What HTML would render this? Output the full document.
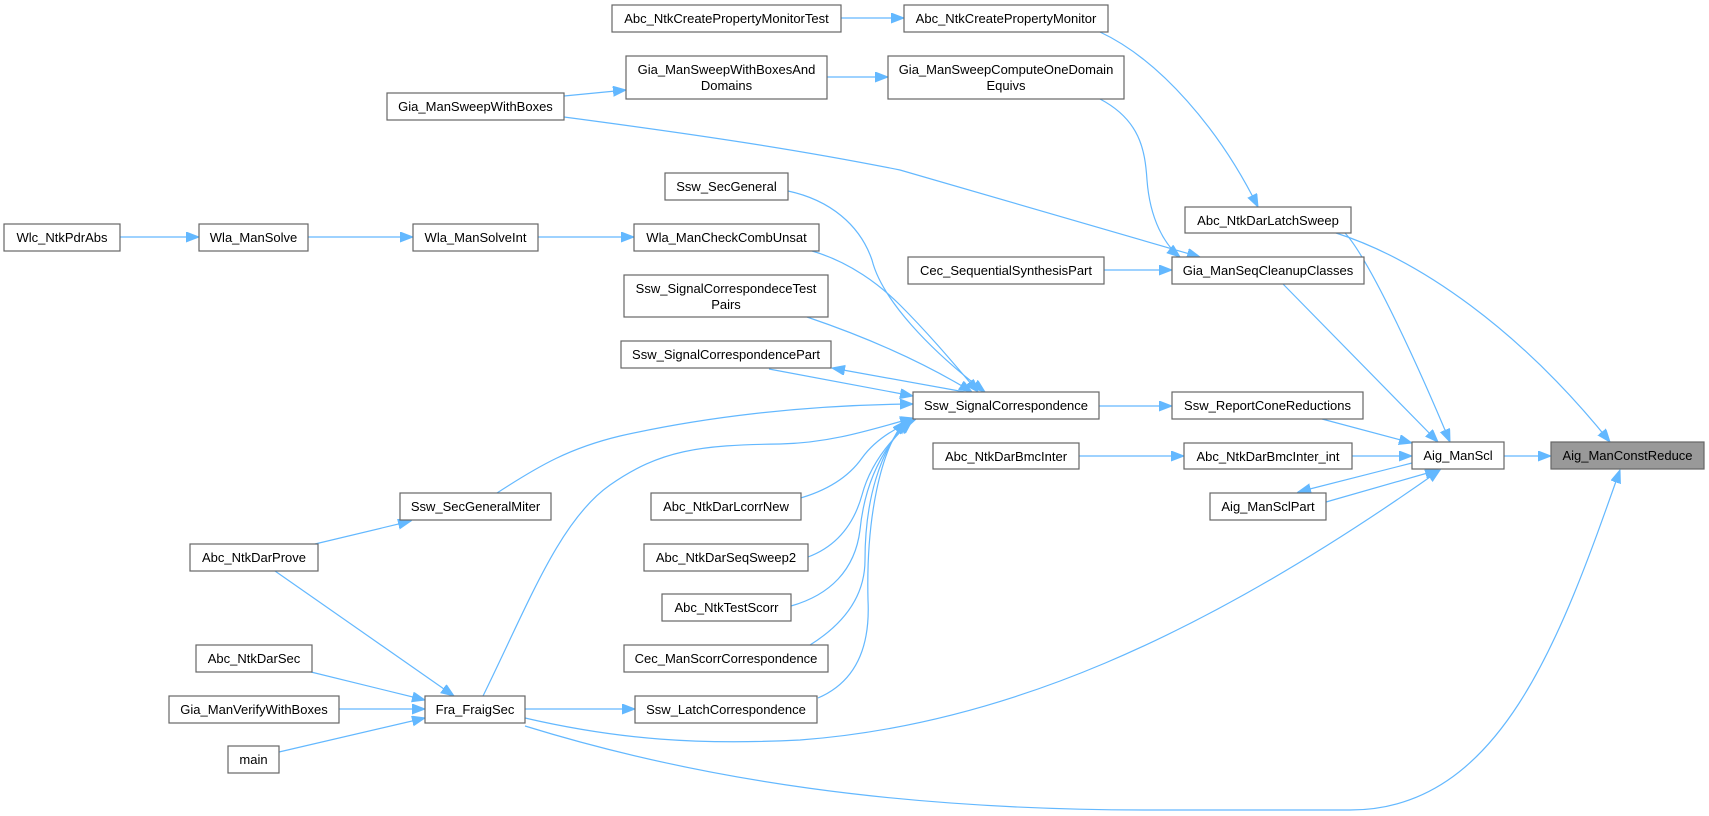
<!DOCTYPE html>
<html><head><meta charset="utf-8"><style>
html,body{margin:0;padding:0;background:#fff;}
svg{display:block;}
text{font-family:"Liberation Sans",Arial,sans-serif;font-size:13px;fill:#000;text-anchor:middle;}
.b{fill:#fff;stroke:#666;stroke-width:1.2;}
.g{fill:#999;stroke:#666;stroke-width:1.2;}
.e{fill:none;stroke:#63b8ff;stroke-width:1.2;marker-end:url(#a);}
</style></head><body>
<svg width="1709" height="816" viewBox="0 0 1709 816" xmlns="http://www.w3.org/2000/svg">
<defs><marker id="a" markerUnits="userSpaceOnUse" markerWidth="14" markerHeight="12" refX="13" refY="5" orient="auto"><path d="M0,0 L13,5 L0,10 Z" fill="#63b8ff" stroke="#63b8ff"/></marker></defs>

<!-- edges -->
<path class="e" d="M841,18 L904,18"/>
<path class="e" d="M1100,32 C1160,60 1220,130 1258,207"/>
<path class="e" d="M827,77 L888,77"/>
<path class="e" d="M564,96 L626,90"/>
<path class="e" d="M1100,99 C1140,120 1145,150 1147,180 C1150,220 1165,245 1180,257"/>
<path class="e" d="M564,117 C700,135 800,150 900,170 L1200,257"/>
<path class="e" d="M1104,270 L1172,270"/>
<path class="e" d="M1283,284 L1438,442"/>
<path class="e" d="M1345,233 C1370,260 1420,370 1450,442"/>
<path class="e" d="M1336,233 C1420,260 1520,330 1610,442"/>
<path class="e" d="M1322,419 L1412,443"/>
<path class="e" d="M1352,456 L1412,456"/>
<path class="e" d="M1079,456 L1184,456"/>
<path class="e" d="M1504,456 L1551,456"/>
<path class="e" d="M1412,463 L1298,492"/>
<path class="e" d="M1326,502 L1438,470"/>
<path class="e" d="M525,718 C620,740 700,745 800,740 C1000,725 1200,640 1440,470"/>
<path class="e" d="M525,726 C700,780 900,810 1150,810 L1350,810 C1500,810 1560,640 1620,470"/>
<path class="e" d="M818,698 C860,680 870,640 868,600 C866,520 880,450 905,421"/>
<path class="e" d="M810,645 C850,620 865,590 865,560 C865,500 880,450 907,421"/>
<path class="e" d="M791,606 C830,595 855,570 860,530 C865,480 885,445 910,421"/>
<path class="e" d="M808,557 C840,545 855,520 862,495 C870,465 890,440 912,421"/>
<path class="e" d="M797,499 C830,490 850,475 862,458 C875,440 895,428 915,420"/>
<path class="e" d="M483,696 C530,600 560,520 610,485 C660,450 700,445 780,444 C830,443 870,430 913,418"/>
<path class="e" d="M497,493 C540,465 570,448 620,436 C700,418 800,405 913,404"/>
<path class="e" d="M769,369 L913,396"/>
<path class="e" d="M965,392 L832,368"/>
<path class="e" d="M807,317 C860,335 920,360 972,392"/>
<path class="e" d="M812,251 C850,262 880,285 900,305 C930,335 955,365 978,392"/>
<path class="e" d="M788,191 C830,200 860,225 872,260 C882,300 930,350 985,392"/>
<path class="e" d="M1099,406 L1172,406"/>
<path class="e" d="M120,237 L199,237"/>
<path class="e" d="M308,237 L413,237"/>
<path class="e" d="M538,237 L634,237"/>
<path class="e" d="M315,544 L411,521"/>
<path class="e" d="M275,571 L454,696"/>
<path class="e" d="M311,672 L425,700"/>
<path class="e" d="M339,709 L425,709"/>
<path class="e" d="M279,752 L425,718"/>
<path class="e" d="M525,709 L635,709"/>

<!-- nodes -->
<rect class="b" x="612" y="5" width="229" height="27"/><text x="726.5" y="23">Abc_NtkCreatePropertyMonitorTest</text>
<rect class="b" x="904" y="5" width="204" height="27"/><text x="1006" y="23">Abc_NtkCreatePropertyMonitor</text>
<rect class="b" x="626" y="56" width="201" height="43"/><text x="726.5" y="74">Gia_ManSweepWithBoxesAnd</text><text x="726.5" y="90">Domains</text>
<rect class="b" x="888" y="56" width="236" height="43"/><text x="1006" y="74">Gia_ManSweepComputeOneDomain</text><text x="1006" y="90">Equivs</text>
<rect class="b" x="387" y="93" width="177" height="27"/><text x="475.5" y="111">Gia_ManSweepWithBoxes</text>
<rect class="b" x="665" y="173" width="123" height="27"/><text x="726.5" y="191">Ssw_SecGeneral</text>
<rect class="b" x="1185" y="207" width="166" height="26"/><text x="1268" y="225">Abc_NtkDarLatchSweep</text>
<rect class="b" x="4" y="224" width="116" height="27"/><text x="62" y="242">Wlc_NtkPdrAbs</text>
<rect class="b" x="199" y="224" width="109" height="27"/><text x="253.5" y="242">Wla_ManSolve</text>
<rect class="b" x="413" y="224" width="125" height="27"/><text x="475.5" y="242">Wla_ManSolveInt</text>
<rect class="b" x="634" y="224" width="185" height="27"/><text x="726.5" y="242">Wla_ManCheckCombUnsat</text>
<rect class="b" x="908" y="257" width="196" height="27"/><text x="1006" y="275">Cec_SequentialSynthesisPart</text>
<rect class="b" x="1172" y="257" width="192" height="27"/><text x="1268" y="275">Gia_ManSeqCleanupClasses</text>
<rect class="b" x="624" y="275" width="204" height="42"/><text x="726" y="293">Ssw_SignalCorrespondeceTest</text><text x="726" y="309">Pairs</text>
<rect class="b" x="621" y="341" width="210" height="27"/><text x="726" y="359">Ssw_SignalCorrespondencePart</text>
<rect class="b" x="913" y="392" width="186" height="27"/><text x="1006" y="410">Ssw_SignalCorrespondence</text>
<rect class="b" x="1172" y="392" width="191" height="27"/><text x="1267.5" y="410">Ssw_ReportConeReductions</text>
<rect class="b" x="933" y="443" width="146" height="26"/><text x="1006" y="461">Abc_NtkDarBmcInter</text>
<rect class="b" x="1184" y="443" width="168" height="26"/><text x="1268" y="461">Abc_NtkDarBmcInter_int</text>
<rect class="b" x="1412" y="442" width="92" height="27"/><text x="1458" y="460">Aig_ManScl</text>
<rect class="g" x="1551" y="442" width="153" height="27"/><text x="1627.5" y="460">Aig_ManConstReduce</text>
<rect class="b" x="1210" y="493" width="116" height="27"/><text x="1268" y="511">Aig_ManSclPart</text>
<rect class="b" x="400" y="493" width="151" height="27"/><text x="475.5" y="511">Ssw_SecGeneralMiter</text>
<rect class="b" x="651" y="493" width="150" height="27"/><text x="726" y="511">Abc_NtkDarLcorrNew</text>
<rect class="b" x="190" y="544" width="128" height="27"/><text x="254" y="562">Abc_NtkDarProve</text>
<rect class="b" x="644" y="544" width="164" height="27"/><text x="726" y="562">Abc_NtkDarSeqSweep2</text>
<rect class="b" x="662" y="594" width="129" height="27"/><text x="726.5" y="612">Abc_NtkTestScorr</text>
<rect class="b" x="196" y="645" width="116" height="27"/><text x="254" y="663">Abc_NtkDarSec</text>
<rect class="b" x="624" y="645" width="204" height="27"/><text x="726" y="663">Cec_ManScorrCorrespondence</text>
<rect class="b" x="169" y="696" width="170" height="27"/><text x="254" y="714">Gia_ManVerifyWithBoxes</text>
<rect class="b" x="425" y="696" width="100" height="27"/><text x="475" y="714">Fra_FraigSec</text>
<rect class="b" x="635" y="696" width="182" height="27"/><text x="726" y="714">Ssw_LatchCorrespondence</text>
<rect class="b" x="228" y="746" width="51" height="27"/><text x="253.5" y="764">main</text>
</svg>
</body></html>
